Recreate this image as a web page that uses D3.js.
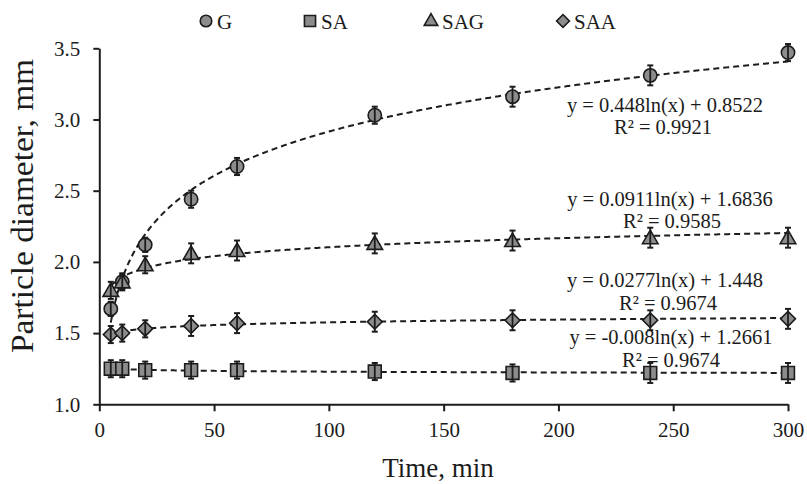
<!DOCTYPE html>
<html>
<head>
<meta charset="utf-8">
<script src="https://cdn.jsdelivr.net/npm/d3@7"></script>
<style>
  html, body { margin: 0; padding: 0; background: #fff; }
  svg { display: block; font-family: "Liberation Serif", "Times New Roman", serif; }
</style>
</head>
<body>
<svg id="chart" width="807" height="484"></svg>
<script>
// ---- data ----
const times = [5, 10, 20, 40, 60, 120, 180, 240, 300];
const seriesNames = ["G", "SA", "SAG", "SAA"];
const seriesSymbols = ["circle", "square", "triangle", "diamond"];
const valuesG   = [1.67, 1.86, 2.12, 2.44, 2.67, 3.03, 3.16, 3.31, 3.47];
const valuesSA  = [1.25, 1.25, 1.24, 1.24, 1.24, 1.23, 1.22, 1.22, 1.22];
const valuesSAG = [1.80, 1.86, 1.98, 2.06, 2.08, 2.13, 2.15, 2.17, 2.17];
const valuesSAA = [1.49, 1.50, 1.53, 1.55, 1.57, 1.58, 1.59, 1.59, 1.60];
const errG   = [0.05, 0.05, 0.05, 0.06, 0.06, 0.06, 0.07, 0.07, 0.06];
const errSA  = [0.06, 0.06, 0.06, 0.06, 0.06, 0.06, 0.06, 0.07, 0.07];
const errSAG = [0.06, 0.06, 0.06, 0.07, 0.07, 0.07, 0.07, 0.07, 0.07];
const errSAA = [0.06, 0.06, 0.06, 0.07, 0.07, 0.07, 0.07, 0.07, 0.07];
// logarithmic trendlines y = a ln(x) + b
const fitA = [0.448, -0.008, 0.0911, 0.0277];
const fitB = [0.8522, 1.2661, 1.6836, 1.448];
const eqTexts = ["y = 0.448ln(x) + 0.8522", "y = -0.008ln(x) + 1.2661", "y = 0.0911ln(x) + 1.6836", "y = 0.0277ln(x) + 1.448"];
const r2Texts = ["R² = 0.9921", "R² = 0.9674", "R² = 0.9585", "R² = 0.9674"];
const xTicks = [0, 50, 100, 150, 200, 250, 300];
const yTicks = [1.0, 1.5, 2.0, 2.5, 3.0, 3.5];
const xTitle = "Time, min";
const yTitle = "Particle diameter, mm";

const values = [valuesG, valuesSA, valuesSAG, valuesSAA];
const errors = [errG, errSA, errSAG, errSAA];

// ---- layout ----
const svg = d3.select("#chart");
const plotL = 99.3, plotR = 788, plotT = 48.3, plotB = 404.3;
const x = d3.scaleLinear().domain([0, 300]).range([plotL, plotR]);
const y = d3.scaleLinear().domain([1, 3.5]).range([plotB, plotT]);
const ink = "#1c1c1c";
const fill = "#8c8c8c";

// axes
const xAxis = svg.append("g").attr("transform", `translate(0,${plotB})`)
  .call(d3.axisBottom(x).tickValues(xTicks).tickSize(7).tickSizeOuter(0).tickPadding(6).tickFormat(d3.format("d")));
const yAxis = svg.append("g").attr("transform", `translate(${plotL},0)`)
  .call(d3.axisLeft(y).tickValues(yTicks).tickSize(6).tickSizeOuter(0).tickPadding(13).tickFormat(d3.format(".1f")));
[xAxis, yAxis].forEach(a => {
  a.select(".domain").attr("stroke", ink).attr("stroke-width", 2);
  a.selectAll(".tick line").attr("stroke", ink).attr("stroke-width", 2);
  a.selectAll(".tick text").attr("fill", ink).attr("font-size", 21)
    .attr("font-family", "Liberation Serif");
});
xAxis.selectAll(".tick text").attr("dy", "0.95em");

// axis titles
svg.append("text").attr("x", 438).attr("y", 477).attr("text-anchor", "middle")
  .attr("font-size", 27).attr("fill", ink).text(xTitle);
svg.append("text").attr("transform", `translate(33,206) rotate(-90)`).attr("text-anchor", "middle")
  .attr("font-size", 31).attr("fill", ink).attr("textLength", 294).attr("lengthAdjust", "spacingAndGlyphs")
  .text(yTitle);

// trendlines
const curveXs = d3.range(5, 300.01, 0.5);
const line = d3.line().x(d => x(d[0])).y(d => y(d[1]));
fitA.forEach((a, i) => {
  const pts = curveXs.map(t => [t, a * Math.log(t) + fitB[i]]);
  svg.append("path").attr("d", line(pts)).attr("fill", "none")
    .attr("stroke", ink).attr("stroke-width", 2).attr("stroke-dasharray", "6,4");
});

// marker shapes (diamond = square rotated 45°)
const symSize = { circle: 140, square: 165, triangle: 105, diamond: 110 };
const symType = { circle: d3.symbolCircle, square: d3.symbolSquare, triangle: d3.symbolTriangle, diamond: d3.symbolSquare };
function marker(g, type, scale) {
  return g.append("path")
    .attr("d", d3.symbol().type(symType[type]).size(symSize[type] * (scale || 1))())
    .attr("fill", fill).attr("stroke", ink).attr("stroke-width", 1.6);
}
function place(m, type, px, py) {
  const dy = type === "triangle" ? 1.5 : 0;
  const rot = type === "diamond" ? " rotate(45)" : "";
  m.attr("transform", `translate(${px},${py + dy})${rot}`);
}

// markers + error bars
values.forEach((vals, i) => {
  const g = svg.append("g");
  vals.forEach((v, j) => {
    place(marker(g, seriesSymbols[i]), seriesSymbols[i], x(times[j]), y(v));
  });
  vals.forEach((v, j) => {
    const cx = x(times[j]), e = errors[i][j];
    const y1 = y(v + e), y2 = y(v - e);
    g.append("line").attr("x1", cx).attr("x2", cx).attr("y1", y1).attr("y2", y2)
      .attr("stroke", ink).attr("stroke-width", 1.8);
    [y1, y2].forEach(yy => g.append("line").attr("x1", cx - 3).attr("x2", cx + 3)
      .attr("y1", yy).attr("y2", yy).attr("stroke", ink).attr("stroke-width", 2));
  });
});

// equation labels (order G, SA, SAG, SAA)
const eqPos = [[665, 112, 663, 134], [671, 344, 671, 367], [670, 206, 672, 228], [665, 287, 668, 310]];
eqTexts.forEach((t, i) => {
  const p = eqPos[i];
  svg.append("text").attr("x", p[0]).attr("y", p[1]).attr("text-anchor", "middle")
    .attr("font-size", 20.5).attr("fill", ink).text(t);
  svg.append("text").attr("x", p[2]).attr("y", p[3]).attr("text-anchor", "middle")
    .attr("font-size", 20.5).attr("fill", ink).text(r2Texts[i]);
});

// legend
const legX = [206, 310, 431, 563];
seriesNames.forEach((n, i) => {
  const g = svg.append("g");
  const m = marker(g, seriesSymbols[i], 0.75);
  place(m, seriesSymbols[i], legX[i], seriesSymbols[i] === "triangle" ? 20 : 21);
  g.append("text").attr("x", legX[i] + 11).attr("y", 28.5).attr("font-size", 21).attr("fill", ink).text(n);
});
</script>
</body>
</html>
